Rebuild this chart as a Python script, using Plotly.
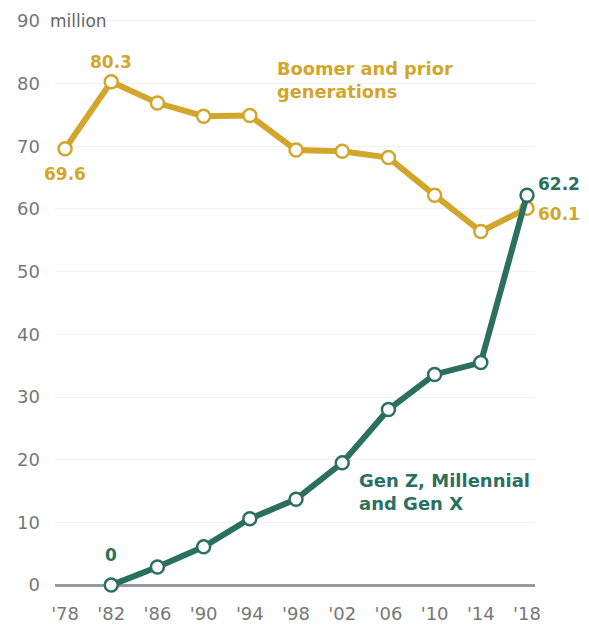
import plotly.graph_objects as go

years = [1978, 1982, 1986, 1990, 1994, 1998, 2002, 2006, 2010, 2014, 2018]
tick_labels = ["'78", "'82", "'86", "'90", "'94", "'98", "'02", "'06", "'10", "'14", "'18"]
boomer = [69.6, 80.3, 76.9, 74.8, 74.9, 69.4, 69.2, 68.2, 62.2, 56.4, 60.1]
genx_years = [1982, 1986, 1990, 1994, 1998, 2002, 2006, 2010, 2014, 2018]
genx = [0, 2.9, 6.1, 10.6, 13.7, 19.5, 28.0, 33.6, 35.5, 62.2]
y_ticks = [0, 10, 20, 30, 40, 50, 60, 70, 80, 90]

GOLD = "#D2A52B"
GREEN = "#2B705F"
FONT = "DejaVu Sans"

fig = go.Figure()
fig.add_trace(go.Scatter(
    x=years, y=boomer, mode="lines+markers",
    line=dict(color=GOLD, width=6),
    marker=dict(size=13, color="white", line=dict(color=GOLD, width=2.5)),
    cliponaxis=False, hoverinfo="skip"))
fig.add_trace(go.Scatter(
    x=genx_years, y=genx, mode="lines+markers",
    line=dict(color=GREEN, width=6),
    marker=dict(size=13, color="white", line=dict(color=GREEN, width=2.5)),
    cliponaxis=False, hoverinfo="skip"))

ann = []
def lab(x, y, text, color, xanchor="center", xshift=0, yshift=0, size=17):
    ann.append(dict(x=x, y=y, text=text, showarrow=False, xanchor=xanchor,
                    xshift=xshift, yshift=yshift,
                    font=dict(family=FONT, size=size, color=color, weight="bold")))

lab(years[1], boomer[1], "80.3", GOLD, yshift=20)
lab(years[0], boomer[0], "69.6", GOLD, yshift=-25)
lab(genx_years[0], genx[0], "0", GREEN, yshift=30)
lab(genx_years[-1], genx[-1], "62.2", GREEN, xanchor="left", xshift=9, yshift=11)
lab(years[-1], boomer[-1], "60.1", GOLD, xanchor="left", xshift=9, yshift=-6)

ann.append(dict(x=1996.2, y=80.5, text="Boomer and prior<br>generations", showarrow=False,
                xanchor="left", yanchor="middle", align="left",
                font=dict(family=FONT, size=17.8, color=GOLD, weight="bold")))
ann.append(dict(x=2003.3, y=14.8, text="Gen Z, Millennial<br>and Gen X", showarrow=False,
                xanchor="left", yanchor="middle", align="left",
                font=dict(family=FONT, size=18, color=GREEN, weight="bold")))
ann.append(dict(x=0, xref="paper", xshift=-7, y=90, text="million", showarrow=False,
                xanchor="left", yanchor="middle",
                font=dict(family=FONT, size=17, color="#666666")))
fig.update_layout(annotations=ann)

fig.update_xaxes(range=[1977.13, 2018.69], tickvals=years, ticktext=tick_labels,
                 showgrid=False, zeroline=False, showline=False, ticks="",
                 ticklabelstandoff=8, ticklabeloverflow="allow",
                 tickfont=dict(family=FONT, size=18, color="#777777"), fixedrange=True)
fig.update_yaxes(range=[-1.26, 91.1], tickvals=y_ticks,
                 showgrid=True, gridcolor="#F2F2F2", gridwidth=1,
                 zeroline=True, zerolinecolor="#999999", zerolinewidth=2.5,
                 showline=False, ticks="", ticklabelstandoff=14, ticklabeloverflow="allow",
                 tickfont=dict(family=FONT, size=18, color="#777777"), fixedrange=True)

fig.update_layout(width=581, height=618, margin=dict(l=47, r=54, t=2, b=31),
                  plot_bgcolor="white", paper_bgcolor="white", showlegend=False)
fig.write_html("out.html")
